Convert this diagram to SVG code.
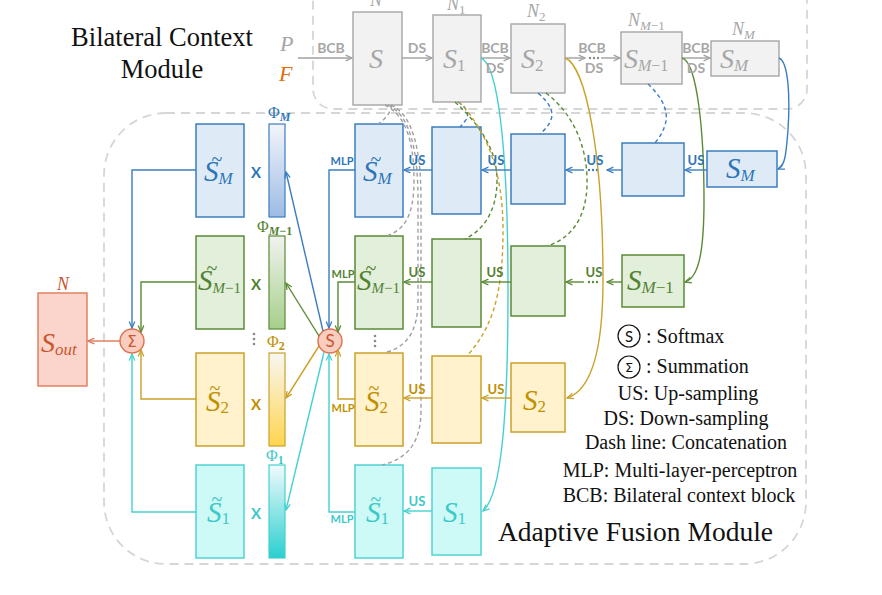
<svg xmlns="http://www.w3.org/2000/svg" width="882" height="595" viewBox="0 0 882 595">
<style>
.serif{font-family:"Liberation Serif","DejaVu Serif",serif}
.math{font-family:"Liberation Serif","DejaVu Serif",serif;font-style:italic}
.lbl{font-family:Lato,"Liberation Sans",sans-serif;font-weight:bold;text-anchor:middle}
.bg{fill:#f2f2f2;stroke:#a6a6a6;stroke-width:1.4}
.bb{fill:#deebf7;stroke:#3b7dc0;stroke-width:1.5}
.bgr{fill:#e2efda;stroke:#5b8a36;stroke-width:1.5}
.by{fill:#fff2cc;stroke:#caa12a;stroke-width:1.5}
.bc{fill:#cdfaf6;stroke:#50d2d2;stroke-width:1.5}
.ln{fill:none;stroke-width:1.4}
.kb{stroke:#3b7dc0}.kg{stroke:#5b8a36}.ky{stroke:#caa12a}.kc{stroke:#45d0d0}.kgray{stroke:#a0a0a0}.ko{stroke:#e0785a}
.d{stroke-dasharray:4 3}
.tb{fill:#2e75b6}.tg{fill:#548235}.ty{fill:#bf9000}.tc{fill:#3cc9c9}.tgray{fill:#a6a6a6}.to{fill:#c8552c}
.mod{fill:none;stroke:#d6d6d6;stroke-width:1.8;stroke-dasharray:9 6}
.tl{font-size:20px;text-anchor:middle}
</style>
<defs>
<marker id="mb" viewBox="0 0 10 10" refX="9" refY="5" markerWidth="8" markerHeight="8" orient="auto" markerUnits="userSpaceOnUse"><path d="M1,1.5 L9,5 L1,8.5" fill="none" stroke="#3b7dc0" stroke-width="1.6"/></marker>
<marker id="mg" viewBox="0 0 10 10" refX="9" refY="5" markerWidth="8" markerHeight="8" orient="auto" markerUnits="userSpaceOnUse"><path d="M1,1.5 L9,5 L1,8.5" fill="none" stroke="#5b8a36" stroke-width="1.6"/></marker>
<marker id="my" viewBox="0 0 10 10" refX="9" refY="5" markerWidth="8" markerHeight="8" orient="auto" markerUnits="userSpaceOnUse"><path d="M1,1.5 L9,5 L1,8.5" fill="none" stroke="#caa12a" stroke-width="1.6"/></marker>
<marker id="mc" viewBox="0 0 10 10" refX="9" refY="5" markerWidth="8" markerHeight="8" orient="auto" markerUnits="userSpaceOnUse"><path d="M1,1.5 L9,5 L1,8.5" fill="none" stroke="#45d0d0" stroke-width="1.6"/></marker>
<marker id="mgray" viewBox="0 0 10 10" refX="9" refY="5" markerWidth="8" markerHeight="8" orient="auto" markerUnits="userSpaceOnUse"><path d="M1,1.5 L9,5 L1,8.5" fill="none" stroke="#a0a0a0" stroke-width="1.6"/></marker>
<marker id="mo" viewBox="0 0 10 10" refX="9" refY="5" markerWidth="8" markerHeight="8" orient="auto" markerUnits="userSpaceOnUse"><path d="M1,1.5 L9,5 L1,8.5" fill="none" stroke="#e0785a" stroke-width="1.6"/></marker>
<linearGradient id="gb" x1="0" y1="0" x2="0" y2="1"><stop offset="0" stop-color="#f3f5fa"/><stop offset="1" stop-color="#9dbbe5"/></linearGradient>
<linearGradient id="gg" x1="0" y1="0" x2="0" y2="1"><stop offset="0" stop-color="#f1f3ef"/><stop offset="1" stop-color="#a6cf8b"/></linearGradient>
<linearGradient id="gy" x1="0" y1="0" x2="0" y2="1"><stop offset="0" stop-color="#f7f7f3"/><stop offset="1" stop-color="#ffd54f"/></linearGradient>
<linearGradient id="gc" x1="0" y1="0" x2="0" y2="1"><stop offset="0" stop-color="#f1fafc"/><stop offset="1" stop-color="#2bcfcf"/></linearGradient>
</defs>
<rect width="882" height="595" fill="#fff"/>

<!-- module frames -->
<g id="modules">
<rect class="mod" x="313" y="-20" width="494" height="129" rx="20"/>
<rect class="mod" x="104" y="113" width="702" height="451" rx="62"/>
<text class="serif" x="162" y="46" font-size="26.5" text-anchor="middle" fill="#111">Bilateral Context</text>
<text class="serif" x="162" y="78" font-size="26.5" text-anchor="middle" fill="#111">Module</text>
<text class="serif" x="498" y="541" font-size="27.5" fill="#111">Adaptive Fusion Module</text>
</g>

<!-- inputs -->
<g id="inputs">
<text class="math tgray" x="280" y="51" font-size="22">P</text>
<text class="math" x="279" y="81" font-size="22" fill="#e36c0a">F</text>
</g>

<!-- top row nodes -->
<g id="top-S">
<rect class="bg" x="353" y="12" width="49" height="93"/>
<text class="math tgray" x="370" y="6" font-size="18">N</text>
<text class="math tgray" x="369" y="68" font-size="28">S</text>
</g>
<g id="top-S1">
<rect class="bg" x="433" y="15" width="48" height="87"/>
<text class="math tgray" x="447" y="10" font-size="18">N<tspan font-style="normal" font-size="13" dy="4">1</tspan></text>
<text class="math tgray" x="443" y="68" font-size="28">S<tspan font-style="normal" font-size="17" dy="3">1</tspan></text>
</g>
<g id="top-S2">
<rect class="bg" x="511" y="24" width="54" height="69"/>
<text class="math tgray" x="527" y="17" font-size="18">N<tspan font-style="normal" font-size="13" dy="4">2</tspan></text>
<text class="math tgray" x="521" y="68" font-size="28">S<tspan font-style="normal" font-size="17" dy="3">2</tspan></text>
</g>
<g id="top-SM1">
<rect class="bg" x="621" y="32" width="61" height="52"/>
<text class="math tgray" x="628" y="26" font-size="18">N<tspan font-size="13" dy="4">M</tspan><tspan font-style="normal" font-size="13">−1</tspan></text>
<text class="math tgray" x="624" y="68" font-size="28">S<tspan font-size="16" dy="3">M</tspan><tspan font-style="normal" font-size="16">−1</tspan></text>
</g>
<g id="top-SM">
<rect class="bg" x="711" y="41" width="68" height="35"/>
<text class="math tgray" x="732" y="35" font-size="18">N<tspan font-size="13" dy="4">M</tspan></text>
<text class="math tgray" x="720" y="68" font-size="28">S<tspan font-size="17" dy="3">M</tspan></text>
</g>

<!-- column A (weighted) -->
<g id="A-M">
<rect class="bb" x="196" y="124" width="48" height="93"/>
<text class="serif tb" x="217" y="166" font-size="20" text-anchor="middle">~</text>
<text class="math tb" x="204" y="181" font-size="29">S<tspan font-size="17" dy="3">M</tspan></text>
</g>
<g id="A-M1">
<rect class="bgr" x="196" y="236" width="48" height="93"/>
<text class="serif tg" x="212" y="275" font-size="20" text-anchor="middle">~</text>
<text class="math tg" x="198" y="290" font-size="29">S<tspan font-size="15" dy="3">M</tspan><tspan font-style="normal" font-size="15">−1</tspan></text>
</g>
<g id="A-2">
<rect class="by" x="196" y="353" width="48" height="93"/>
<text class="serif ty" x="215" y="395" font-size="20" text-anchor="middle">~</text>
<text class="math ty" x="206" y="411" font-size="29">S<tspan font-style="normal" font-size="17" dy="2">2</tspan></text>
</g>
<g id="A-1">
<rect class="bc" x="196" y="465" width="48" height="93"/>
<text class="serif tc" x="217" y="506" font-size="20" text-anchor="middle">~</text>
<text class="math tc" x="207" y="522" font-size="29">S<tspan font-style="normal" font-size="17" dy="2">1</tspan></text>
</g>

<!-- X labels -->
<g id="mult">
<text class="lbl tb" x="256" y="178" font-size="15">X</text>
<text class="lbl tg" x="256" y="290" font-size="15">X</text>
<text class="lbl ty" x="256" y="410" font-size="15">X</text>
<text class="lbl tc" x="256" y="519" font-size="15">X</text>
</g>

<!-- Phi bars -->
<g id="phi-M">
<rect x="269" y="124" width="16" height="93" fill="url(#gb)" stroke="#3b7dc0" stroke-width="1.2"/>
<text class="serif tb" x="268" y="118" font-size="16">Φ<tspan font-style="italic" font-weight="bold" font-size="12" dy="3">M</tspan></text>
</g>
<g id="phi-M1">
<rect x="269" y="236" width="16" height="93" fill="url(#gg)" stroke="#5b8a36" stroke-width="1.2"/>
<text class="serif tg" x="257" y="232" font-size="16">Φ<tspan font-style="italic" font-weight="bold" font-size="12" dy="3">M</tspan><tspan font-weight="bold" font-size="12">−1</tspan></text>
</g>
<g id="phi-2">
<rect x="269" y="353" width="16" height="93" fill="url(#gy)" stroke="#caa12a" stroke-width="1.2"/>
<text class="serif ty" x="267" y="347" font-size="16">Φ<tspan font-weight="bold" font-size="12" dy="3">2</tspan></text>
</g>
<g id="phi-1">
<rect x="269" y="465" width="16" height="93" fill="url(#gc)" stroke="#45d0d0" stroke-width="1.2"/>
<text class="serif tc" x="266" y="461" font-size="16">Φ<tspan font-weight="bold" font-size="12" dy="3">1</tspan></text>
</g>

<!-- column B (MLP) -->
<g id="B-M">
<rect class="bb" x="355" y="124" width="48" height="93"/>
<text class="serif tb" x="376" y="166" font-size="20" text-anchor="middle">~</text>
<text class="math tb" x="363" y="181" font-size="29">S<tspan font-size="17" dy="3">M</tspan></text>
</g>
<g id="B-M1">
<rect class="bgr" x="355" y="236" width="48" height="93"/>
<text class="serif tg" x="371" y="275" font-size="20" text-anchor="middle">~</text>
<text class="math tg" x="357" y="290" font-size="29">S<tspan font-size="15" dy="3">M</tspan><tspan font-style="normal" font-size="15">−1</tspan></text>
</g>
<g id="B-2">
<rect class="by" x="355" y="353" width="48" height="93"/>
<text class="serif ty" x="374" y="395" font-size="20" text-anchor="middle">~</text>
<text class="math ty" x="365" y="411" font-size="29">S<tspan font-style="normal" font-size="17" dy="2">2</tspan></text>
</g>
<g id="B-1">
<rect class="bc" x="355" y="465" width="48" height="93"/>
<text class="serif tc" x="376" y="506" font-size="20" text-anchor="middle">~</text>
<text class="math tc" x="366" y="522" font-size="29">S<tspan font-style="normal" font-size="17" dy="2">1</tspan></text>
</g>

<!-- column C -->
<g id="C-M"><rect class="bb" x="432" y="127" width="49" height="87"/></g>
<g id="C-M1"><rect class="bgr" x="432" y="239" width="49" height="88"/></g>
<g id="C-2"><rect class="by" x="432" y="356" width="49" height="87"/></g>
<g id="C-1">
<rect class="bc" x="432" y="468" width="49" height="87"/>
<text class="math tc" x="443" y="522" font-size="29">S<tspan font-style="normal" font-size="17" dy="2">1</tspan></text>
</g>
<!-- column D -->
<g id="D-M"><rect class="bb" x="511" y="134" width="54" height="70"/></g>
<g id="D-M1"><rect class="bgr" x="511" y="246" width="54" height="70"/></g>
<g id="D-2">
<rect class="by" x="511" y="363" width="54" height="69"/>
<text class="math ty" x="523" y="410" font-size="29">S<tspan font-style="normal" font-size="17" dy="2">2</tspan></text>
</g>
<!-- column E -->
<g id="E-M"><rect class="bb" x="622" y="143" width="62" height="53"/></g>
<g id="E-M1">
<rect class="bgr" x="622" y="255" width="62" height="52"/>
<text class="math tg" x="627" y="290" font-size="29">S<tspan font-size="17" dy="3">M</tspan><tspan font-style="normal" font-size="17">−1</tspan></text>
</g>
<!-- column F -->
<g id="F-M">
<rect class="bb" x="707" y="151" width="70" height="36"/>
<text class="math tb" x="726" y="178" font-size="29">S<tspan font-size="17" dy="3">M</tspan></text>
</g>

<!-- operators -->
<g id="summation">
<circle cx="132" cy="341" r="12" fill="#f9cdbf" stroke="#e0704f" stroke-width="1.4"/>
<text x="132" y="347" font-family="'DejaVu Sans',sans-serif" font-size="15" text-anchor="middle" class="to">Σ</text>
</g>
<g id="softmax">
<circle cx="330" cy="341" r="12" fill="#f9cdbf" stroke="#e0704f" stroke-width="1.4"/>
<text x="330" y="347" font-family="Lato,'Liberation Sans',sans-serif" font-size="17" text-anchor="middle" class="to">S</text>
</g>
<g id="S-out">
<rect x="38" y="293" width="49" height="93" fill="#fbd5cb" stroke="#e07a57" stroke-width="1.4"/>
<text class="math to" x="57" y="290" font-size="18">N</text>
<text class="math to" x="41" y="352" font-size="28">S<tspan font-size="17" dy="3">out</tspan></text>
</g>

<!-- dots -->
<g id="dots" fill="#8a8a8a">
<circle cx="254" cy="334" r="1.3"/><circle cx="254" cy="339" r="1.3"/><circle cx="254" cy="344" r="1.3"/>
<circle cx="375" cy="336" r="1.3"/><circle cx="375" cy="341" r="1.3"/><circle cx="375" cy="346" r="1.3"/>
<circle cx="590" cy="58" r="1.2"/><circle cx="594" cy="58" r="1.2"/><circle cx="598" cy="58" r="1.2"/>
<circle cx="589" cy="170" r="1.2" fill="#3b7dc0"/><circle cx="593" cy="170" r="1.2" fill="#3b7dc0"/><circle cx="597" cy="170" r="1.2" fill="#3b7dc0"/>
<circle cx="589" cy="282" r="1.2" fill="#5b8a36"/><circle cx="593" cy="282" r="1.2" fill="#5b8a36"/><circle cx="597" cy="282" r="1.2" fill="#5b8a36"/>
</g>

<!-- connectors -->
<g id="connectors">
<path class="ln kgray" d="M298,58 L352,58" marker-end="url(#mgray)"/>
<path class="ln kgray" d="M402,58 L432,58" marker-end="url(#mgray)"/>
<path class="ln kgray" d="M481,58 L510,58" marker-end="url(#mgray)"/>
<path class="ln kgray" d="M565,58 L585,58" marker-end="url(#mgray)"/>
<path class="ln kgray" d="M601,58 L620,58" marker-end="url(#mgray)"/>
<path class="ln kgray" d="M682,58 L710,58" marker-end="url(#mgray)"/>
<path class="ln kc" d="M481,58 C497,64 508,140 508,290 C508,420 501,495 483,511" marker-end="url(#mc)"/>
<path class="ln ky" d="M565,58 C585,65 603,150 603,280 C603,350 592,390 567,398" marker-end="url(#my)"/>
<path class="ln kg" d="M682,58 C697,62 704,130 704,200 C704,255 698,278 685,282" marker-end="url(#mg)"/>
<path class="ln kb" d="M779,58 C789,62 790,100 788,130 C786,155 785,166 778,169" marker-end="url(#mb)"/>
<path class="ln kb d" d="M648,84 C660,95 670,110 665,125 C662,135 657,140 655,143"/>
<path class="ln kb d" d="M538,93 C550,103 555,113 550,122 C547,128 543,131 540,134"/>
<path class="ln kb d" d="M458,102 C468,108 470,116 465,121 C463,124 461,126 460,127"/>
<path class="ln kg d" d="M546,93 C575,115 588,150 587,185 C586,220 570,238 548,246"/>
<path class="ln kg d" d="M455,102 C480,125 497,150 497,180 C497,215 480,232 465,239"/>
<path class="ln ky d" d="M459,102 C486,130 503,170 503,230 C503,300 490,330 467,356"/>
<path class="ln kgray d" d="M392,105 Q390,116 378,124"/>
<path class="ln kgray d" d="M385,105 C405,115 414,140 414,180 C414,215 405,230 386,236"/>
<path class="ln kgray d" d="M388,105 C410,115 418,150 418,200 L418,300 C418,330 408,346 387,352"/>
<path class="ln kgray d" d="M391,105 C413,115 421,150 421,200 L421,410 C421,440 410,458 382,465"/>
<path class="ln kb" d="M707,170 L685,170" marker-end="url(#mb)"/>
<path class="ln kb" d="M622,170 L607,170" marker-end="url(#mb)"/>
<path class="ln kb" d="M584,170 L566,170" marker-end="url(#mb)"/>
<path class="ln kb" d="M511,170 L482,170" marker-end="url(#mb)"/>
<path class="ln kb" d="M432,170 L404,170" marker-end="url(#mb)"/>
<path class="ln kg" d="M622,282 L607,282" marker-end="url(#mg)"/>
<path class="ln kg" d="M584,282 L566,282" marker-end="url(#mg)"/>
<path class="ln kg" d="M511,282 L482,282" marker-end="url(#mg)"/>
<path class="ln kg" d="M432,282 L404,282" marker-end="url(#mg)"/>
<path class="ln ky" d="M511,398 L482,398" marker-end="url(#my)"/>
<path class="ln ky" d="M432,398 L404,398" marker-end="url(#my)"/>
<path class="ln kc" d="M432,511 L404,511" marker-end="url(#mc)"/>
<path class="ln kb" d="M355,170 L329,170 L329,328" marker-end="url(#mb)"/>
<path class="ln kg" d="M355,282 L338,282 L338,332" marker-end="url(#mg)"/>
<path class="ln ky" d="M355,399 L338,399 L338,350" marker-end="url(#my)"/>
<path class="ln kc" d="M355,512 L329,512 L329,354" marker-end="url(#mc)"/>
<path class="ln kb" d="M323,331 L286,172" marker-end="url(#mb)"/>
<path class="ln kg" d="M319,336 L286,283" marker-end="url(#mg)"/>
<path class="ln ky" d="M319,346 L286,398" marker-end="url(#my)"/>
<path class="ln kc" d="M324,352 L286,510" marker-end="url(#mc)"/>
<path class="ln kb" d="M196,170 L132,170 L132,328" marker-end="url(#mb)"/>
<path class="ln kg" d="M196,282 L141,282 L141,332" marker-end="url(#mg)"/>
<path class="ln ky" d="M196,399 L141,399 L141,350" marker-end="url(#my)"/>
<path class="ln kc" d="M196,512 L132,512 L132,354" marker-end="url(#mc)"/>
<path class="ln ko" d="M120,341 L88,341" marker-end="url(#mo)"/>
</g>

<!-- connector labels -->
<g id="connector-labels">
<text class="lbl tgray" x="331" y="53" font-size="14">BCB</text>
<text class="lbl tgray" x="417" y="53" font-size="14">DS</text>
<text class="lbl tgray" x="495" y="53" font-size="14">BCB</text>
<text class="lbl tgray" x="495" y="73" font-size="14">DS</text>
<text class="lbl tgray" x="592" y="53" font-size="14">BCB</text>
<text class="lbl tgray" x="594" y="73" font-size="14">DS</text>
<text class="lbl tgray" x="696" y="53" font-size="14">BCB</text>
<text class="lbl tgray" x="696" y="73" font-size="14">DS</text>
<text class="lbl tb" x="696" y="165" font-size="13">US</text>
<text class="lbl tb" x="595" y="165" font-size="13">US</text>
<text class="lbl tb" x="496" y="165" font-size="13">US</text>
<text class="lbl tb" x="417" y="165" font-size="13">US</text>
<text class="lbl tg" x="594" y="277" font-size="13">US</text>
<text class="lbl tg" x="495" y="277" font-size="13">US</text>
<text class="lbl tg" x="417" y="277" font-size="13">US</text>
<text class="lbl ty" x="496" y="394" font-size="13">US</text>
<text class="lbl ty" x="417" y="394" font-size="13">US</text>
<text class="lbl tc" x="417" y="506" font-size="13">US</text>
<text class="lbl tb" x="342" y="165" font-size="11">MLP</text>
<text class="lbl tg" x="343" y="278" font-size="11">MLP</text>
<text class="lbl ty" x="343" y="412" font-size="11">MLP</text>
<text class="lbl tc" x="342" y="523" font-size="11">MLP</text>
</g>

<!-- legend -->
<g id="legend">
<circle cx="629" cy="336" r="11" fill="#fff" stroke="#111" stroke-width="1.2"/>
<text x="629" y="341.5" font-family="Lato,'Liberation Sans',sans-serif" font-size="15" text-anchor="middle" fill="#111">S</text>
<text class="serif" x="646" y="343" font-size="20" fill="#111">: Softmax</text>
<circle cx="629" cy="367" r="11" fill="#fff" stroke="#111" stroke-width="1.2"/>
<text x="629" y="372" font-family="'DejaVu Sans',sans-serif" font-size="13" text-anchor="middle" fill="#111">Σ</text>
<text class="serif" x="646" y="373" font-size="20" fill="#111">: Summation</text>
<text class="serif tl" x="688" y="400" fill="#111">US: Up-sampling</text>
<text class="serif tl" x="686" y="425" fill="#111">DS: Down-sampling</text>
<text class="serif tl" x="686" y="449" fill="#111">Dash line: Concatenation</text>
<text class="serif tl" x="680" y="477" fill="#111">MLP: Multi-layer-perceptron</text>
<text class="serif tl" x="679" y="502" fill="#111">BCB: Bilateral context block</text>
</g>
</svg>
